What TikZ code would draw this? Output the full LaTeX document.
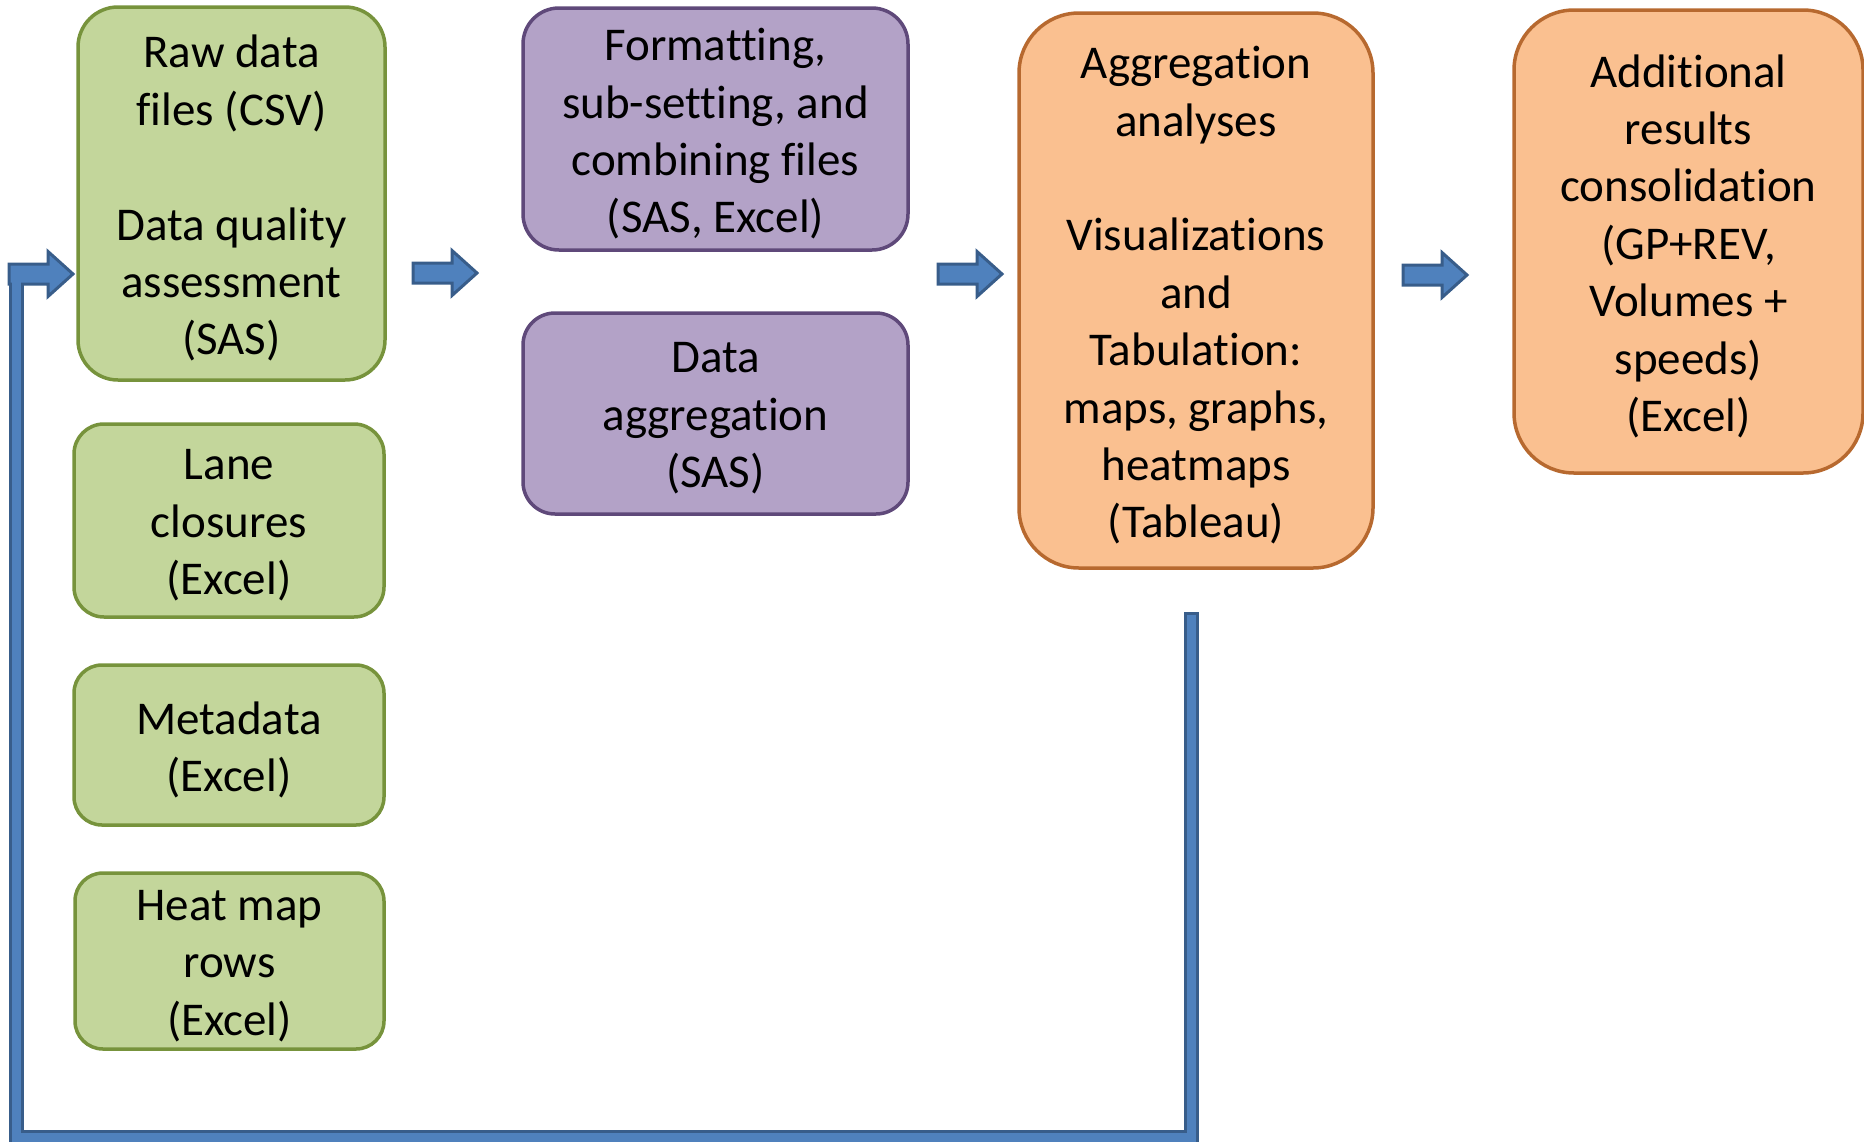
\documentclass[tikz,border=0pt]{standalone}
\usepackage{fontspec}
\setmainfont[Ligatures=NoCommon]{Carlito}
\definecolor{gfill}{HTML}{C3D69B}
\definecolor{gdraw}{HTML}{77933C}
\definecolor{pfill}{HTML}{B3A2C7}
\definecolor{pdraw}{HTML}{5F497A}
\definecolor{ofill}{HTML}{FAC090}
\definecolor{odraw}{HTML}{B7692F}
\definecolor{afill}{HTML}{4F81BD}
\definecolor{adraw}{HTML}{385D8A}
\begin{document}
\begin{tikzpicture}[x=0.5pt,y=-0.5pt,
  txt/.style={align=center, inner sep=0pt, text=black, yshift=-2.4pt,
    font=\fontsize{23.5pt}{28.7pt}\selectfont},
  box/.style={draw, line width=1.75pt, inner sep=0pt},
  greenbox/.style={box, fill=gfill, draw=gdraw},
  purplebox/.style={box, fill=pfill, draw=pdraw},
  orangebox/.style={box, fill=ofill, draw=odraw},
  barrow/.pic={\draw[draw=adraw, fill=afill, line width=1.5pt, line join=miter]
     (0,-10) -- (39,-10) -- (39,-22.5) -- (64,0) -- (39,22.5) -- (39,10) -- (0,10) -- cycle;}
]
\useasboundingbox (0,0) rectangle (1864,1141);

% green column
\node[greenbox, minimum width=153.5pt, minimum height=186.5pt, rounded corners=20pt,
  label={[txt]center:{Raw data\\files (CSV)\\~\\Data quality\\assessment\\(SAS)}}] (raw) at (231.5,193.5) {};
\node[greenbox, minimum width=155pt, minimum height=96.5pt, rounded corners=15pt,
  label={[txt]center:{Lane\\closures\\(Excel)}}] (lane) at (229,520.5) {};
\node[greenbox, minimum width=155pt, minimum height=80pt, rounded corners=14pt,
  label={[txt]center:{Metadata\\(Excel)}}] (meta) at (229,745) {};
\node[greenbox, minimum width=154.5pt, minimum height=88pt, rounded corners=14pt,
  label={[txt]center:{Heat map\\rows\\(Excel)}}] (heat) at (229.5,961) {};

% purple column
\node[purplebox, minimum width=192.5pt, minimum height=121pt, rounded corners=18pt,
  label={[txt]center:{Formatting,\\sub-setting, and\\combining files\\(SAS, Excel)}}] (fmt) at (715.5,129) {};
\node[purplebox, minimum width=192.5pt, minimum height=100.5pt, rounded corners=16pt,
  label={[txt]center:{Data\\aggregation\\(SAS)}}] (agg) at (715.5,413.5) {};

% orange boxes
\node[orangebox, minimum width=177pt, minimum height=277.5pt, rounded corners=30pt,
  label={[txt]center:{Aggregation\\analyses\\~\\Visualizations\\and\\Tabulation:\\maps, graphs,\\heatmaps\\(Tableau)}}] (ana) at (1196,290.5) {};
\node[orangebox, minimum width=174.5pt, minimum height=231.5pt, rounded corners=30pt,
  label={[txt]center:{Additional\\results\\consolidation\\(GP+REV,\\Volumes +\\speeds)\\(Excel)}}] (add) at (1688.5,241.5) {};

% feedback loop
\coordinate (loopstart) at (1191,612);
\coordinate (loopdown) at (1191,1137);
\coordinate (loopleft) at (16.5,1137);
\coordinate (loopup) at (16.5,268);
\draw[draw=adraw, line width=7.5pt] (loopstart) -- (loopdown) -- (loopleft) -- (loopup);
\pic at (9,274) {barrow};
\draw[draw=afill, line width=4.5pt] ([yshift=-1.5pt]loopstart) -- (loopdown) -- (loopleft) -- (loopup);

% block arrows
\pic at (413,273) {barrow};
\pic at (938,274) {barrow};
\pic at (1403,275) {barrow};
\end{tikzpicture}
\end{document}
